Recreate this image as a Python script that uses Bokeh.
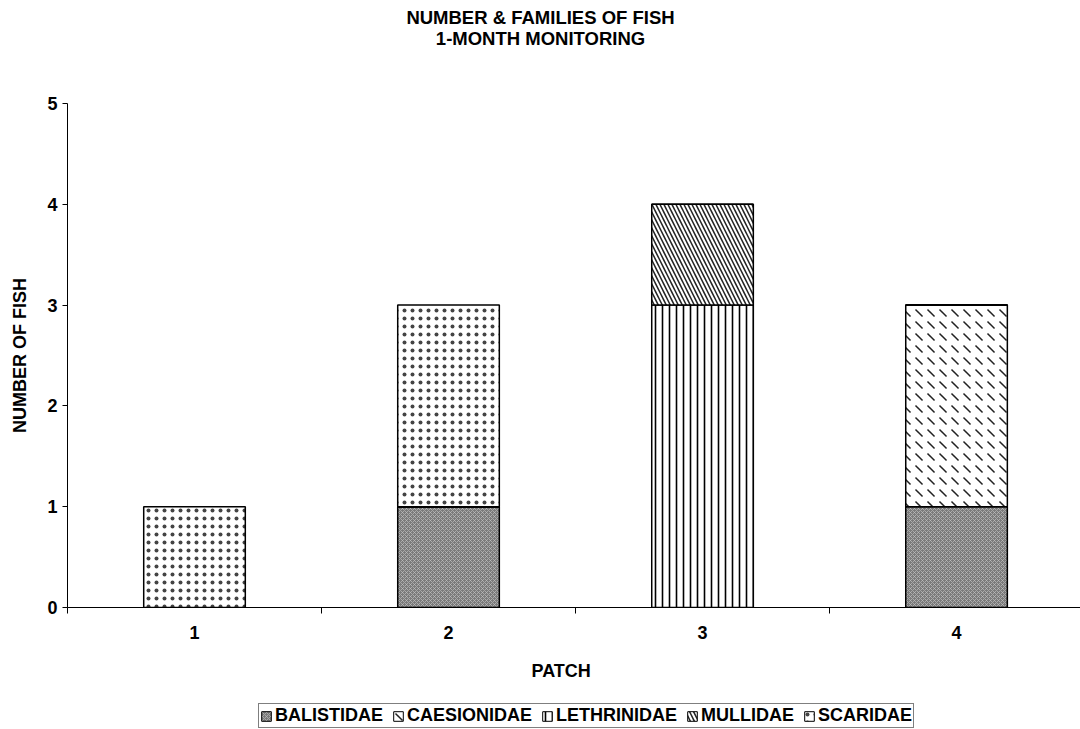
from bokeh.plotting import figure
from bokeh.layouts import column
from bokeh.models import (ColumnDataSource, Range1d, FixedTicker, Legend,
                          LegendItem, Title, Label)
from bokeh.embed import file_html
from bokeh.resources import INLINE

# Fish counts per patch, one list per family
patches = [1, 2, 3, 4]
patch_labels = ["1", "2", "3", "4"]
families = ["BALISTIDAE", "CAESIONIDAE", "LETHRINIDAE", "MULLIDAE", "SCARIDAE"]
balistidae = [0, 1, 0, 1]
caesionidae = [0, 0, 0, 2]
lethrinidae = [0, 0, 3, 0]
mullidae = [0, 0, 1, 0]
scaridae = [1, 2, 0, 0]
y_ticks = [0, 1, 2, 3, 4, 5]
heading = ["NUMBER & FAMILIES OF FISH", "1-MONTH MONITORING"]

FONT = "Liberation Sans"
FS = "18px"
W = 1080


def bare_figure(height, x_range=(0, 1), y_range=(0, 1)):
    f = figure(width=W, height=height, x_range=Range1d(*x_range),
               y_range=Range1d(*y_range), x_axis_type=None, y_axis_type=None,
               output_backend="svg", toolbar_location=None, min_border=0)
    f.outline_line_color = None
    f.background_fill_color = "white"
    f.border_fill_color = "white"
    return f


# ---- heading strip (frame is aligned with the chart frame, left = 67) ----
head = bare_figure(90)
for txt, yy in zip(heading, [73, 52]):
    head.add_layout(Label(x=473, y=yy, x_units="screen", y_units="screen",
                          text=txt, text_align="center",
                          text_baseline="middle", text_font=FONT,
                          text_font_style="bold", text_font_size="18.5px",
                          text_color="black"))

# ---- main chart ----
source = ColumnDataSource(dict(
    patch=patches,
    BALISTIDAE=balistidae,
    CAESIONIDAE=caesionidae,
    LETHRINIDAE=lethrinidae,
    MULLIDAE=mullidae,
    SCARIDAE=scaridae,
))

chart = figure(width=W, height=610,
               x_range=Range1d(0.5, 4.488), y_range=Range1d(0, 5),
               output_backend="svg", toolbar_location=None, title=None,
               min_border_left=67, min_border_right=0,
               min_border_top=13, min_border_bottom=93)
chart.outline_line_color = None
chart.xgrid.visible = False
chart.ygrid.visible = False
chart.background_fill_color = "white"
chart.border_fill_color = "white"

# Monochrome fills, one per family
styles = dict(
    fill_color=["#7a7a7a", "white", "white", "white", "white"],
    hatch_pattern=["diagonal_cross", "left_diagonal_dash", "vertical_line",
                   "left_diagonal_line", "dot"],
    hatch_color=["#c0c0c0", "#222222", "black", "#222222", "#444444"],
    hatch_scale=[4, 12, 7, 8, 8],
    hatch_weight=[0.7, 1.5, 1.6, 1.5, 0.5],
)

renderers = chart.vbar_stack(families, x="patch", width=0.4, source=source,
                             line_color="black", line_width=1.5, **styles)

xax = chart.xaxis[0]
xax.ticker = FixedTicker(ticks=patches, minor_ticks=[0.5, 1.5, 2.5, 3.5])
xax.major_label_overrides = {pt: lab for pt, lab in zip(patches, patch_labels)}
xax.major_tick_in = 0
xax.major_tick_out = 0
xax.minor_tick_in = 0
xax.minor_tick_out = 6
xax.minor_tick_line_color = "black"
xax.major_label_standoff = 12
xax.axis_line_color = "black"

yax = chart.yaxis[0]
yax.ticker = FixedTicker(ticks=y_ticks)
yax.major_tick_in = 0
yax.major_tick_out = 5
yax.minor_tick_line_color = None
yax.major_label_standoff = 5
yax.axis_label = "NUMBER OF FISH"
yax.axis_label_standoff = 14
yax.axis_line_color = "black"

for ax in (xax, yax):
    ax.major_label_text_font = FONT
    ax.major_label_text_font_style = "bold"
    ax.major_label_text_font_size = FS
    ax.major_label_text_color = "black"
    ax.major_tick_line_color = "black"
    ax.axis_label_text_font = FONT
    ax.axis_label_text_font_style = "bold"
    ax.axis_label_text_font_size = FS
    ax.axis_label_text_color = "black"

chart.add_layout(Title(text="PATCH", align="left", offset=464, standoff=35,
                       text_font=FONT, text_font_style="bold",
                       text_font_size=FS, text_color="black"), "below")

# ---- legend strip: same stacked bars, kept outside its visible ranges ----
key = bare_figure(29, x_range=(-21, -20), y_range=(100, 101))
key_renderers = key.vbar_stack(families, x="patch", width=0.4, source=source,
                               line_color="black", line_width=1, **styles)

legend = Legend(items=[LegendItem(label=f, renderers=[r])
                       for f, r in zip(families, key_renderers)],
                orientation="horizontal", location=(191, 1),
                glyph_width=12, glyph_height=12, label_standoff=3,
                spacing=9, padding=1, label_height=16,
                border_line_color="black", border_line_width=1,
                background_fill_color="white", background_fill_alpha=1,
                label_text_font=FONT, label_text_font_style="bold",
                label_text_font_size=FS, label_text_color="black")
key.add_layout(legend, "center")

page = column(head, chart, key, spacing=0)

open("out.html", "w").write(file_html(page, INLINE))
